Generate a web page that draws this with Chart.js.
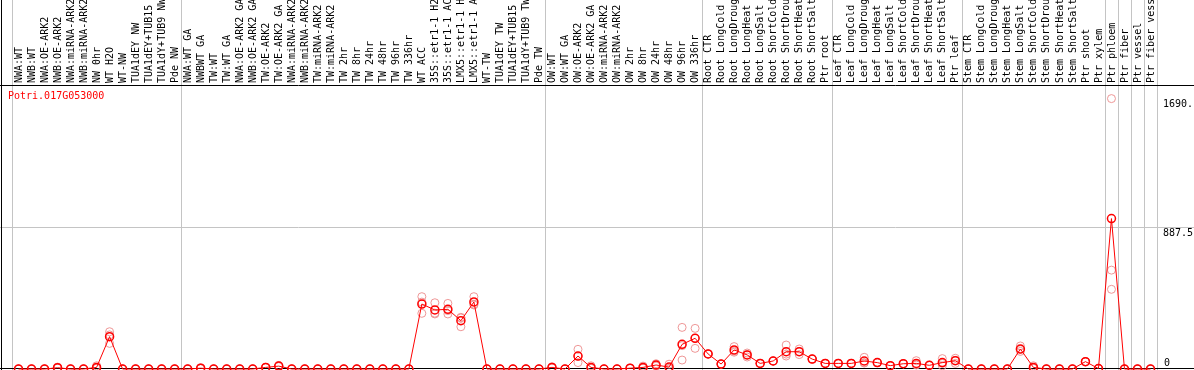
<!DOCTYPE html>
<html>
<head>
<meta charset="utf-8">
<script src="https://cdn.jsdelivr.net/npm/chart.js@4.4.1/dist/chart.umd.min.js"></script>
<style>
  html, body { margin: 0; padding: 0; background: #fff; }
  canvas { display: block; }
</style>
</head>
<body>
<canvas id="expr" width="1194" height="370"></canvas>
<script>
const geneName = "Potri.017G053000";

const samples = [
  "NWA:WT", "NWB:WT", "NWA:OE-ARK2", "NWB:OE-ARK2", "NWA:miRNA-ARK2", "NWB:miRNA-ARK2",
  "NW 0hr", "WT H2O", "WT-NW", "TUA1dEY NW", "TUA1dEY+TUB15 NW", "TUA1dY+TUB9 NW", "Pde NW",
  "NWA:WT GA", "NWBWT GA", "TW:WT", "TW:WT GA", "NWA:OE-ARK2 GA", "NWB:OE-ARK2 GA",
  "TW:OE-ARK2", "TW:OE-ARK2 GA", "NWA:miRNA-ARK2", "NWB:miRNA-ARK2", "TW:miRNA-ARK2", "TW:miRNA-ARK2",
  "TW 2hr", "TW 8hr", "TW 24hr", "TW 48hr", "TW 96hr", "TW 336hr", "WT ACC",
  "35S::etr1-1 H2O", "35S::etr1-1 ACC", "LMX5::etr1-1 H2O", "LMX5::etr1-1 ACC",
  "WT-TW", "TUA1dEY TW", "TUA1dEY+TUB15 TW", "TUA1dY+TUB9 TW", "Pde TW",
  "OW:WT", "OW:WT GA", "OW:OE-ARK2", "OW:OE-ARK2 GA", "OW:miRNA-ARK2", "OW:miRNA-ARK2",
  "OW 2hr", "OW 8hr", "OW 24hr", "OW 48hr", "OW 96hr", "OW 336hr",
  "Root CTR", "Root LongCold", "Root LongDrought", "Root LongHeat", "Root LongSalt",
  "Root ShortCold", "Root ShortDrought", "Root ShortHeat", "Root ShortSalt", "Ptr root",
  "Leaf CTR", "Leaf LongCold", "Leaf LongDrought", "Leaf LongHeat", "Leaf LongSalt",
  "Leaf ShortCold", "Leaf ShortDrought", "Leaf ShortHeat", "Leaf ShortSalt", "Ptr leaf",
  "Stem CTR", "Stem LongCold", "Stem LongDrought", "Stem LongHeat", "Stem LongSalt",
  "Stem ShortCold", "Stem ShortDrought", "Stem ShortHeat", "Stem ShortSalt", "Ptr shoot",
  "Ptr xylem", "Ptr phloem", "Ptr fiber", "Ptr vessel", "Ptr fiber vessel"
];

// first sample index of each group (gray separator lines)
const groupStarts = [0, 13, 41, 53, 63, 73, 84, 85, 86, 87, 88];

// mean expression
const meanValues = [
  0, 0, 0, 8, 0, 0, 10, 202, 0, 0, 0, 0, 0,
  0, 5, 0, 0, 0, 0, 10, 18, 0, 0, 0, 0, 0, 0, 0, 0, 0, 0,
  406, 369, 373, 302, 419, 0, 0, 0, 0, 0,
  10, 0, 81, 10, 0, 0, 5, 10, 25, 12, 154, 192,
  94, 31, 119, 88, 35, 50, 108, 108, 62, 35,
  35, 35, 50, 40, 21, 33, 35, 23, 40, 52,
  0, 0, 0, 0, 125, 10, 0, 0, 0, 46, 3,
  940, 0, 0, 0
];

// replicates
const rep1 = [
  0, 0, 0, 12, 0, 0, 20, 233, 0, 0, 0, 0, 0,
  0, 8, 0, 0, 0, 0, 10, 22, 0, 0, 0, 0, 0, 0, 0, 0, 0, 0,
  452, 414, 410, 323, 452, 0, 0, 0, 0, 0,
  14, 0, 123, 20, 0, 0, 5, 18, 33, 30, 260, 254,
  94, 31, 140, 100, 35, 50, 150, 125, 62, 35,
  35, 35, 73, 40, 21, 33, 52, 23, 65, 67,
  0, 0, 0, 0, 144, 20, 0, 0, 0, 46, 3,
  1690, 0, 0, 0
];
const rep2 = [
  0, 0, 0, 6, 0, 0, 5, 213, 0, 0, 0, 0, 0,
  0, 3, 0, 0, 0, 0, 10, 15, 0, 0, 0, 0, 0, 0, 0, 0, 0, 0,
  348, 344, 344, 264, 400, 0, 0, 0, 0, 0,
  8, 0, 40, 5, 0, 0, 5, 6, 18, 5, 56, 129,
  94, 31, 105, 75, 35, 50, 81, 90, 62, 35,
  35, 35, 40, 40, 21, 33, 25, 23, 20, 35,
  0, 0, 0, 0, 110, 5, 0, 0, 0, 46, 3,
  618, 0, 0, 0
];
const rep3 = [
  0, 0, 0, 6, 0, 0, 5, 160, 0, 0, 0, 0, 0,
  0, 4, 0, 0, 0, 0, 10, 17, 0, 0, 0, 0, 0, 0, 0, 0, 0, 0,
  418, 349, 365, 319, 405, 0, 0, 0, 0, 0,
  8, 0, 80, 5, 0, 0, 5, 6, 24, 1, 146, 193,
  94, 31, 112, 89, 35, 50, 93, 109, 62, 35,
  35, 35, 37, 40, 21, 33, 28, 23, 35, 54,
  0, 0, 0, 0, 121, 5, 0, 0, 0, 46, 3,
  498, 0, 0, 0
];

const yMax = 1775;
const yLabels = [
  { value: 1690, text: "1690." },
  { value: 887.5, text: "887.5" },
  { value: 0, text: "0" }
];

const monoFont = "10px 'DejaVu Sans Mono', 'Liberation Mono', monospace";

const framePlugin = {
  id: "frame",
  beforeDatasetsDraw(chart) {
    const ctx = chart.ctx;
    const xs = chart.scales.x;
    const ys = chart.scales.y;
    const area = chart.chartArea;
    const W = chart.width, H = chart.height;
    ctx.save();
    ctx.lineWidth = 1;

    // group separators
    ctx.strokeStyle = "#c4c4c4";
    groupStarts.forEach(b => {
      const x = Math.round(xs.getPixelForValue(b - 0.5)) + 0.5;
      ctx.beginPath();
      ctx.moveTo(x, 0);
      ctx.lineTo(x, H);
      ctx.stroke();
    });

    // middle horizontal line
    const ym = Math.round(ys.getPixelForValue(887.5)) + 0.5;
    ctx.beginPath();
    ctx.moveTo(0, ym);
    ctx.lineTo(W, ym);
    ctx.stroke();

    // black frame
    ctx.strokeStyle = "#000";
    const yt = Math.round(area.top) + 0.5;
    const yb = Math.round(area.bottom) - 0.5;
    ctx.beginPath();
    ctx.moveTo(0, yt); ctx.lineTo(W, yt);
    ctx.moveTo(0, yb); ctx.lineTo(W, yb);
    ctx.moveTo(1.5, 0); ctx.lineTo(1.5, H);
    ctx.stroke();

    // sample labels, rotated
    ctx.fillStyle = "#000";
    ctx.font = monoFont;
    ctx.textAlign = "left";
    ctx.textBaseline = "middle";
    samples.forEach((s, i) => {
      const x = xs.getPixelForValue(i);
      ctx.save();
      ctx.translate(x, area.top - 2);
      ctx.rotate(-Math.PI / 2);
      ctx.fillText(s, 0, 0.5);
      ctx.restore();
    });

    // gene name
    ctx.fillStyle = "#ff0000";
    ctx.textBaseline = "top";
    ctx.fillText(geneName, 8, area.top + 6);

    // value labels on the right
    ctx.fillStyle = "#000";
    yLabels.forEach(l => {
      const y = ys.getPixelForValue(l.value);
      if (l.value === 0) {
        ctx.textBaseline = "alphabetic";
        ctx.fillText(l.text, 1164, y - 3);
      } else {
        ctx.textBaseline = "top";
        ctx.fillText(l.text, 1163, y + 1);
      }
    });
    ctx.restore();
  }
};

function repSet(data) {
  return {
    data: data,
    showLine: false,
    pointRadius: 4,
    pointBorderWidth: 1,
    pointBorderColor: "rgba(236,140,140,0.9)",
    pointBackgroundColor: "rgba(0,0,0,0)",
    clip: false,
    order: 2
  };
}

new Chart(document.getElementById("expr"), {
  type: "line",
  data: {
    labels: samples,
    datasets: [
      {
        data: meanValues,
        borderColor: "#ff0000",
        borderWidth: 1,
        pointRadius: 4,
        pointBorderWidth: 1.5,
        pointBorderColor: "#ff0000",
        pointBackgroundColor: "rgba(0,0,0,0)",
        tension: 0,
        clip: false,
        order: 1
      },
      repSet(rep1),
      repSet(rep2),
      repSet(rep3)
    ]
  },
  plugins: [framePlugin],
  options: {
    responsive: false,
    devicePixelRatio: 1,
    animation: false,
    layout: { autoPadding: false, padding: { left: 12, right: 37, top: 85, bottom: 1 } },
    plugins: {
      legend: { display: false },
      tooltip: { enabled: false },
      title: { display: false }
    },
    scales: {
      x: { type: "category", offset: true, display: false },
      y: { min: 0, max: yMax, display: false }
    }
  }
});
</script>
</body>
</html>
